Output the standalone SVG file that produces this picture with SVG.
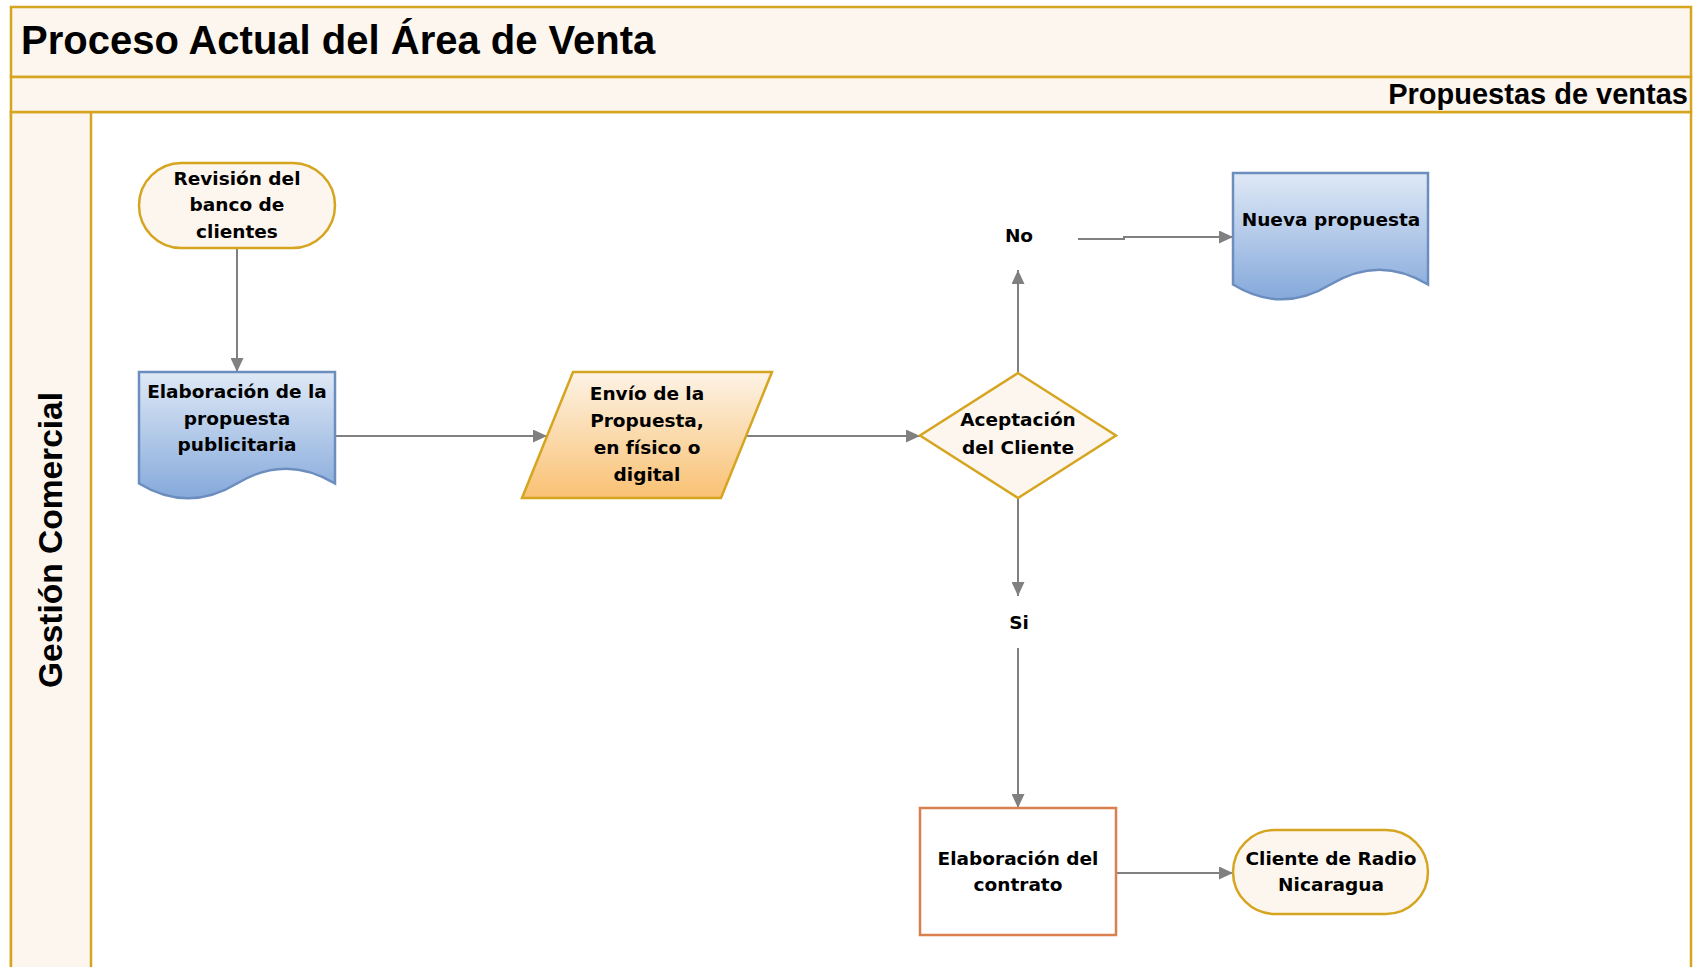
<svg xmlns="http://www.w3.org/2000/svg" width="1694" height="967" viewBox="0 0 1694 967">
<defs>
<style>
.band{fill:#fdf6ee;stroke:#d6a520;stroke-width:2.5}
.body{fill:#ffffff;stroke:#d6a520;stroke-width:2.5}
.hdr{font-family:"Liberation Sans",Arial,sans-serif;font-weight:bold;fill:#000}
.t{font-family:"DejaVu Sans",Verdana,sans-serif;font-weight:bold;font-size:18.5px;fill:#000;text-anchor:middle}
.cream{fill:#fdf6ee;stroke:#d6a520;stroke-width:2.5}
.doc{fill:url(#blueGrad);stroke:#6c8ebf;stroke-width:2.5}
.io{fill:url(#orangeGrad);stroke:#d6a520;stroke-width:2.5}
.proc{fill:#ffffff;stroke:#d9804e;stroke-width:2.5}
.conn{fill:none;stroke:#808080;stroke-width:2;marker-end:url(#arr)}
</style>
<linearGradient id="blueGrad" x1="0" y1="0" x2="0" y2="1">
<stop offset="0" stop-color="#dfe9f6"/>
<stop offset="1" stop-color="#85a9db"/>
</linearGradient>
<linearGradient id="orangeGrad" x1="0" y1="0" x2="0" y2="1">
<stop offset="0" stop-color="#fdf3e6"/>
<stop offset="1" stop-color="#f9c173"/>
</linearGradient>
<marker id="arr" markerUnits="userSpaceOnUse" markerWidth="15" markerHeight="13" refX="14" refY="6.5" orient="auto">
<path d="M0,0 L14,6.5 L0,13 Z" fill="#808080"/>
</marker>
</defs>

<g id="pool">
<rect class="body" x="11" y="112" width="1680" height="880"/>
<rect class="band" x="11" y="112" width="80" height="880"/>
<rect class="band" x="11" y="7" width="1680" height="70"/>
<rect class="band" x="11" y="77" width="1680" height="35"/>
<text class="hdr" x="21" y="54" font-size="40">Proceso Actual del Área de Venta</text>
<text class="hdr" x="1688" y="104" font-size="29" text-anchor="end">Propuestas de ventas</text>
<text class="hdr" font-size="33.5" text-anchor="middle" transform="translate(62,540) rotate(-90)">Gestión Comercial</text>
</g>

<g id="connectors">
<path class="conn" d="M237,248.5 V372"/>
<path class="conn" d="M335,436 H547"/>
<path class="conn" d="M746,436 H920"/>
<path class="conn" d="M1018,373 V270"/>
<path class="conn" d="M1078,239 H1124 V237 H1233"/>
<path class="conn" d="M1018,498 V596"/>
<path class="conn" d="M1018,648 V808"/>
<path class="conn" d="M1116,873 H1233"/>
</g>

<g id="revision">
<rect class="cream" x="139" y="163" width="196" height="85" rx="42.5"/>
<text class="t" x="237" y="184.5">Revisión del</text>
<text class="t" x="237" y="211">banco de</text>
<text class="t" x="237" y="237.5">clientes</text>
</g>

<g id="elaboracion-propuesta">
<path class="doc" d="M139,372 H335 V483.5 Q286,453.8 237,483.5 Q188,513.2 139,483.5 Z"/>
<text class="t" x="237" y="397.5">Elaboración de la</text>
<text class="t" x="237" y="424.5">propuesta</text>
<text class="t" x="237" y="450.5">publicitaria</text>
</g>

<g id="envio">
<polygon class="io" points="573,372 772,372 721,498 522,498"/>
<text class="t" x="647" y="399.5">Envío de la</text>
<text class="t" x="647" y="426.5">Propuesta,</text>
<text class="t" x="647" y="453.5">en físico o</text>
<text class="t" x="647" y="480.5">digital</text>
</g>

<g id="aceptacion">
<polygon class="cream" points="1018,373 1116,435.5 1018,498 920,435.5"/>
<text class="t" x="1018" y="425.5">Aceptación</text>
<text class="t" x="1018" y="453.5">del Cliente</text>
</g>

<g id="label-no">
<text class="t" x="1019" y="242">No</text>
</g>

<g id="label-si">
<text class="t" x="1019" y="628.5">Si</text>
</g>

<g id="nueva-propuesta">
<path class="doc" d="M1233,173 H1428 V284.5 Q1379.25,254.8 1330.5,284.5 Q1281.75,314.2 1233,284.5 Z"/>
<text class="t" x="1331" y="225.5">Nueva propuesta</text>
</g>

<g id="contrato">
<rect class="proc" x="920" y="808" width="196" height="127"/>
<text class="t" x="1018" y="864.5">Elaboración del</text>
<text class="t" x="1018" y="890.5">contrato</text>
</g>

<g id="cliente">
<rect class="cream" x="1233" y="830" width="195" height="84" rx="42"/>
<text class="t" x="1331" y="864.5">Cliente de Radio</text>
<text class="t" x="1331" y="890.5">Nicaragua</text>
</g>
</svg>
